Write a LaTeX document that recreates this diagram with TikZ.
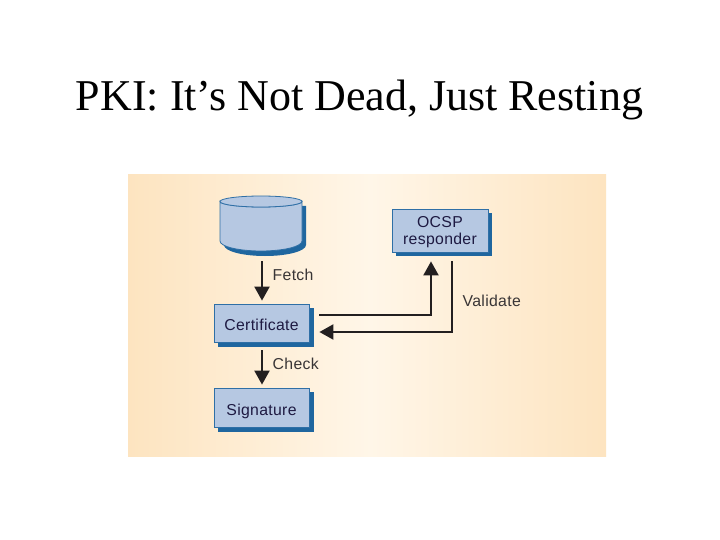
\documentclass[tikz,border=0pt]{standalone}
\usepackage{fontspec}
\setmainfont{Liberation Serif}
\newfontfamily\labelfont[LetterSpace=2]{Liberation Sans}
\usetikzlibrary{arrows.meta}
\definecolor{boxfill}{HTML}{B6C8E2}
\definecolor{boxedge}{HTML}{2F6FA6}
\definecolor{boxshade}{HTML}{1F669F}
\definecolor{ink}{HTML}{231F20}
\definecolor{bgedge}{HTML}{FDE4C0}
\definecolor{bgmid}{HTML}{FFF6E8}
\newcommand{\boxline}[2]{\makebox[0pt]{\raisebox{#1}[0pt][0pt]{#2}}}
\tikzset{
  x=1pt,y=-1pt,
  bluebox/.style={draw=boxedge,line width=0.8pt,fill=boxfill,inner sep=0pt,align=center,text=ink!85!blue,
    font=\labelfont\fontsize{15.8}{18.5}\selectfont},
  conn/.style={draw=ink,line width=2.2pt},
  connarrow/.style={conn,-{Triangle[length=14pt,width=15pt]}},
  lbl/.style={text=ink!90,anchor=base west,inner sep=0pt,font=\labelfont\fontsize{15.8}{18}\selectfont},
}
\begin{document}
\begin{tikzpicture}
\useasboundingbox (0,0) rectangle (720,540);
\fill[white] (0,0) rectangle (720,540);
% panel
\fill[left color=bgedge,right color=bgmid] (128,174.5) rectangle (370,456);
\fill[left color=bgmid,right color=bgedge] (370,174.5) rectangle (606,456);
\node[inner sep=0pt,font=\fontsize{44}{50}\selectfont] (title) at (359.5,100) {PKI: It’s Not Dead, Just Resting};
% cylinder
\fill[boxshade] (224,206) -- (306,206) -- (306,245) arc[start angle=0,end angle=180,x radius=41,y radius=11] -- cycle;
\draw[boxedge,line width=0.8pt,fill=boxfill] (220,201.5) -- (220,241) arc[start angle=180,end angle=0,x radius=41,y radius=10] -- (302,201.5) arc[start angle=0,end angle=180,x radius=41,y radius=5.5] -- cycle;
\draw[boxedge,line width=0.8pt,fill=boxfill] (261,201.5) ellipse[x radius=41,y radius=5.5];
\node[minimum width=82pt,minimum height=55pt,inner sep=0pt] (db) at (261,223.5) {};
% boxes
\fill[boxshade] (218,308) rectangle (314,347);
\node[bluebox,minimum width=95pt,minimum height=38pt] (cert) at (261.5,323) {\boxline{-7pt}{Certificate}};
\fill[boxshade] (218,392) rectangle (314,432);
\node[bluebox,minimum width=95pt,minimum height=39pt] (sig) at (261.5,407.5) {\boxline{-7.5pt}{Signature}};
\fill[boxshade] (396,213) rectangle (492,256);
\node[bluebox,minimum width=96pt,minimum height=43pt] (ocsp) at (440,230.5) {\boxline{3.5pt}{OCSP}\boxline{-13.5pt}{responder}};
% connectors
\draw[connarrow] (db.south -| 262,251) ++(0,10) -- ([xshift=0.5pt,yshift=3pt]cert.north);
\draw[connarrow] ([xshift=0.5pt,yshift=-8pt]cert.south) -- ([xshift=0.5pt,yshift=3pt]sig.north);
\draw[connarrow] ([xshift=10pt,yshift=8pt]cert.east) -| ([xshift=-9pt,yshift=-9pt]ocsp.south);
\draw[connarrow] ([xshift=12pt,yshift=-9pt]ocsp.south) |- ([xshift=10pt,yshift=-9pt]cert.east);
% labels
\node[lbl] (fetch) at (272.5,280) {Fetch};
\node[lbl] (check) at (272.5,369) {Check};
\node[lbl] (validate) at (462.5,306.5) {Validate};
\end{tikzpicture}
\end{document}
